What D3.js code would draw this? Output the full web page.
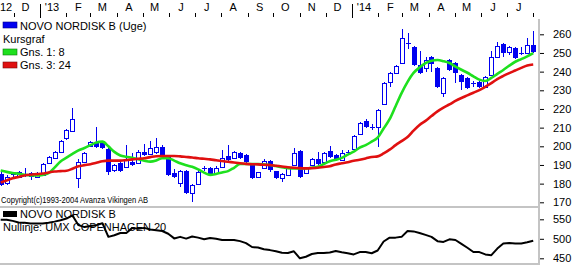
<!DOCTYPE html>
<html><head><meta charset="utf-8">
<script src="https://cdn.jsdelivr.net/npm/d3@7"></script>
<style>html,body{margin:0;padding:0;background:#fff;overflow:hidden}svg{display:block}text{font-family:"Liberation Sans",Arial,sans-serif;fill:#000}</style>
</head><body><svg id="c" width="575" height="265"></svg>
<script>
// weekly candles (week-ending Friday)
const weeks = ["2012-11-16","2012-11-23","2012-11-30","2012-12-07","2012-12-14","2012-12-21","2012-12-28",
"2013-01-04","2013-01-11","2013-01-18","2013-01-25","2013-02-01","2013-02-08","2013-02-15","2013-02-22","2013-03-01","2013-03-08","2013-03-15","2013-03-22","2013-03-29",
"2013-04-05","2013-04-12","2013-04-19","2013-04-26","2013-05-03","2013-05-10","2013-05-17","2013-05-24","2013-05-31","2013-06-07","2013-06-14","2013-06-21","2013-06-28",
"2013-07-05","2013-07-12","2013-07-19","2013-07-26","2013-08-02","2013-08-09","2013-08-16","2013-08-23","2013-08-30","2013-09-06","2013-09-13","2013-09-20","2013-09-27",
"2013-10-04","2013-10-11","2013-10-18","2013-10-25","2013-11-01","2013-11-08","2013-11-15","2013-11-22","2013-11-29","2013-12-06","2013-12-13","2013-12-20","2013-12-27",
"2014-01-03","2014-01-10","2014-01-17","2014-01-24","2014-01-31","2014-02-07","2014-02-14","2014-02-21","2014-02-28","2014-03-07","2014-03-14","2014-03-21","2014-03-28",
"2014-04-04","2014-04-11","2014-04-18","2014-04-25","2014-05-02","2014-05-09","2014-05-16","2014-05-23","2014-05-30","2014-06-06","2014-06-13","2014-06-20","2014-06-27",
"2014-07-04","2014-07-11","2014-07-18","2014-07-25","2014-08-01"];
const open = [185.2,180.4,184.6,183.6,185.0,185.7,183.6,184.6,191.0,193.7,196.9,204.4,208.2,182.9,191.6,200.0,201.7,201.7,198.5,187.2,
191.0,188.9,191.5,191.0,197.0,196.0,196.6,199.6,194.2,185.7,180.3,186.8,175.0,180.3,188.2,188.4,185.6,188.8,194.7,193.6,
196.3,195.2,189.9,183.4,188.3,192.0,186.7,182.9,184.5,189.9,197.4,185.6,189.9,193.0,191.5,197.4,195.2,192.6,196.7,198.5,
206.3,213.5,210.2,210.3,222.7,234.5,239.3,244.7,255.2,253.3,243.6,242.0,247.9,242.0,228.6,246.3,244.7,238.2,236.6,233.9,
234.5,231.8,238.2,247.9,255.0,250.6,252.7,249.9,250.0,254.4];
const close = [179.3,183.6,185.0,186.2,185.2,183.6,185.2,190.5,194.2,196.9,202.8,208.7,214.6,191.6,196.4,202.2,199.5,199.0,186.0,190.0,
186.7,192.6,190.0,196.9,195.6,199.0,199.5,194.2,184.6,183.5,186.8,175.0,179.3,186.5,188.3,185.4,188.5,193.6,192.6,196.9,
193.6,191.5,182.9,186.0,192.0,187.0,182.9,185.0,188.3,196.3,183.4,188.3,193.0,190.4,196.3,194.2,192.6,196.3,196.9,205.3,
212.4,210.3,210.3,219.4,234.0,239.3,243.0,258.0,255.4,243.6,239.3,246.3,244.2,231.8,236.6,240.9,239.3,234.5,231.3,234.0,
231.8,237.2,247.9,253.8,250.0,253.3,247.4,250.0,254.4,250.6];
const high = [186.0,184.5,186.0,187.0,188.6,186.5,186.0,191.0,195.0,197.5,203.5,209.5,220.5,193.0,197.0,203.0,210.5,202.5,199.0,190.5,
191.5,200.6,196.4,198.0,201.0,203.0,204.3,200.5,194.5,188.0,187.5,187.5,180.0,187.5,189.5,189.0,189.5,198.0,200.6,197.5,
197.0,196.0,190.5,186.5,193.0,192.5,187.0,185.5,189.0,199.0,198.0,189.0,193.5,197.0,197.0,200.0,196.0,198.0,198.0,205.8,
213.0,214.5,212.0,220.0,234.5,240.0,243.5,263.0,260.5,253.8,251.0,248.0,248.3,242.5,237.0,246.8,245.2,238.7,237.0,235.0,
235.0,237.7,251.0,256.0,255.5,254.0,253.2,253.0,258.0,262.0];
const low = [178.5,179.5,183.5,183.0,183.5,182.0,183.0,184.0,190.5,193.0,196.5,203.5,207.5,177.8,191.0,199.5,199.0,198.5,184.5,186.5,
186.0,188.5,189.5,190.5,195.0,195.3,196.0,193.5,184.0,183.0,178.0,174.5,170.1,179.5,187.0,185.0,185.0,188.3,192.0,193.0,
193.0,191.0,182.5,183.0,188.0,186.5,182.5,181.0,184.0,189.5,183.0,185.0,189.5,190.0,191.0,194.0,192.3,192.3,195.5,198.0,
206.0,210.0,208.5,199.6,222.0,232.0,238.5,244.3,252.0,243.0,238.8,240.0,240.0,231.3,226.4,240.4,234.0,230.0,230.8,232.0,
231.3,231.3,237.7,247.4,248.0,249.0,247.0,249.0,249.5,250.0];
// Gns. 1: 8 (green) and Gns. 3: 24 (red), read per candle
const avg8 = [187.0,186.3,185.7,185.3,184.8,184.4,184.4,184.7,185.6,188.6,191.9,193.9,195.9,197.8,199.1,200.6,202.0,202.5,200.0,197.0,
195.1,194.4,193.9,193.1,192.3,191.8,192.4,193.6,193.6,192.3,190.9,189.8,189.0,187.6,185.9,184.7,185.2,186.0,186.7,188.5,
190.5,190.5,190.5,190.5,190.3,190.0,189.4,188.8,188.3,188.2,188.2,188.2,188.5,189.1,190.5,192.0,192.8,193.8,195.5,197.1,
199.3,200.6,202.5,204.6,209.5,214.5,221.5,228.5,234.5,239.3,242.2,244.5,245.8,246.2,245.6,244.6,242.7,241.0,239.4,237.5,
235.7,235.0,236.6,238.8,240.9,243.2,245.3,246.7,248.2,249.9];
const avg24 = [180.6,181.7,182.9,183.6,184.4,184.8,185.1,185.4,186.0,186.5,186.7,186.9,188.0,189.3,189.9,190.4,191.2,192.0,192.3,192.3,
192.3,192.6,193.0,193.3,193.6,194.2,194.7,194.8,194.8,194.8,194.6,194.3,194.0,193.6,193.3,193.0,192.5,192.1,191.7,191.3,
190.9,190.6,190.4,190.3,190.1,190.0,189.6,189.2,188.8,188.5,188.3,188.2,188.3,188.5,188.9,189.3,190.3,190.9,191.5,192.3,
192.8,193.5,194.3,194.6,196.2,198.2,200.6,202.8,205.0,208.4,211.4,213.6,216.2,218.7,220.7,222.4,224.3,225.9,227.3,228.7,
230.1,231.9,233.8,236.0,237.7,239.2,240.6,242.0,243.3,243.8];
// NOVO NORDISK B relative to UMX COPENHAGEN 20
const relative = [549,549,546,542,541,539.5,539,539,541,544,547.5,552,560,535,530,533,535,540,505,509,
515,515,528,526,528,524,522,520,513,501,505,500.5,506,503,499,502,500,497,497,497,
494,489,479,477.5,473,471,468,464,463.6,468,450,454,461,463.6,463.6,465,468.7,465.5,463,460,
466,466,463,470,493,503,503,505,520,519,515,510,505,494,492,498.7,497,487,477,466,
466,460,458,475,487.7,489,488,488,491,495];
const monthLabels = ["12","D","'13","F","M","A","M","J","J","A","S","O","N","D","'14","F","M","A","M","J","J"];
const priceTicks = [170,180,190,200,210,220,230,240,250,260];
const relTicks = [450,500,550];

const BLUE = "#0000f0", GREEN = "#1ee01e", RED = "#e01010";
const svg = d3.select("#c");
const parse = d3.utcParse("%Y-%m-%d");
const dates = weeks.map(parse);
const x = d3.scaleUtc().domain([Date.UTC(2013,0,1), Date.UTC(2014,0,1)]).range([40,352]);
const y = d3.scaleLinear().domain([170,260]).range([202.3,34.3]);
const yr = d3.scaleLinear().domain([450,550]).range([258.3,219.3]);
const R = 538;

const defs = svg.append("defs");
defs.append("clipPath").attr("id","cp1").append("rect").attr("x",0).attr("y",19).attr("width",R).attr("height",187);
defs.append("clipPath").attr("id","cp2").append("rect").attr("x",0).attr("y",208).attr("width",R).attr("height",55);

// top month axis
const months = d3.utcMonth.range(new Date(Date.UTC(2012,10,1)), new Date(Date.UTC(2014,7,1)));
const topAxis = svg.append("g");
months.forEach((m,i)=>{
  const mid = d3.utcDay.offset(m,14);
  const first = i === 0;
  topAxis.append("text").attr("x",first ? 0 : x(mid)).attr("y",11)
    .attr("text-anchor",first ? "start" : "middle").attr("font-size",11).text(monthLabels[i]);
});
const tickMonths = d3.utcMonth.range(new Date(Date.UTC(2012,11,1)), new Date(Date.UTC(2014,7,2)));
tickMonths.forEach(m=>{
  const xx = Math.round(x(m))+0.5;
  const yearStart = m.getUTCMonth()===0;
  topAxis.append("line").attr("x1",xx).attr("x2",xx).attr("y1",yearStart?4:13).attr("y2",yearStart?18:17)
    .attr("stroke","#000").attr("stroke-width",1);
});

// frame
svg.append("rect").attr("x",0).attr("y",206).attr("width",R).attr("height",2).attr("fill","#c4c4c4");
svg.append("rect").attr("x",0).attr("y",263).attr("width",R).attr("height",2).attr("fill","#c4c4c4");
svg.append("rect").attr("x",R).attr("y",19).attr("width",2).attr("height",246).attr("fill","#c4c4c4");

// right axes
const ax1 = svg.append("g").attr("transform",`translate(${R+2},0)`)
  .call(d3.axisRight(y).tickValues(priceTicks).tickSize(4).tickPadding(9));
const ax2 = svg.append("g").attr("transform",`translate(${R+2},0)`)
  .call(d3.axisRight(yr).tickValues(relTicks).tickSize(4).tickPadding(9));
[ax1,ax2].forEach(a=>{
  a.select(".domain").remove();
  a.selectAll("line").attr("stroke","#000");
  a.selectAll("text").attr("font-size",11).attr("font-family","Liberation Sans, Arial, sans-serif").attr("fill","#000");
});

// candles
const data = dates.map((d,i)=>({d,o:open[i],c:close[i],h:high[i],l:low[i]}));
const cg = svg.append("g").attr("clip-path","url(#cp1)").attr("shape-rendering","crispEdges");
data.forEach(p=>{
  const cx = Math.round(x(p.d));
  cg.append("line").attr("x1",cx+0.5).attr("x2",cx+0.5).attr("y1",y(p.h)).attr("y2",y(p.l)).attr("stroke",BLUE);
  const t = Math.min(y(p.o),y(p.c)), b = Math.max(y(p.o),y(p.c));
  if (Math.abs(p.o-p.c) < 0.5) {
    cg.append("line").attr("x1",cx-2).attr("x2",cx+3).attr("y1",Math.round(y(p.c))+0.5).attr("y2",Math.round(y(p.c))+0.5).attr("stroke",BLUE);
  } else if (p.c > p.o) {
    cg.append("rect").attr("x",cx-1.5).attr("y",Math.round(t)+0.5).attr("width",4).attr("height",Math.max(1,Math.round(b-t)))
      .attr("fill","#fff").attr("stroke",BLUE);
  } else {
    cg.append("rect").attr("x",cx-2).attr("y",Math.round(t)).attr("width",5).attr("height",Math.max(1,Math.round(b-t)))
      .attr("fill",BLUE);
  }
});

// moving averages
const lg = svg.append("g").attr("clip-path","url(#cp1)");
const lineMA = d3.line().x((d,i)=>x(dates[i])).y(d=>y(d)).curve(d3.curveMonotoneX);
lg.append("path").attr("d",lineMA(avg8)).attr("fill","none").attr("stroke",GREEN).attr("stroke-width",2.6);
lg.append("path").attr("d",lineMA(avg24)).attr("fill","none").attr("stroke",RED).attr("stroke-width",2.6);

// legend top
const leg = svg.append("g");
leg.append("rect").attr("x",3).attr("y",22).attr("width",14).attr("height",6).attr("fill",BLUE).attr("stroke","#00008a").attr("stroke-width",0.6);
leg.append("text").attr("x",20).attr("y",29.5).attr("font-size",11).text("NOVO NORDISK B (Uge)");
leg.append("text").attr("x",3).attr("y",43).attr("font-size",11).text("Kursgraf");
leg.append("rect").attr("x",3).attr("y",49).attr("width",14).attr("height",6).attr("fill",GREEN).attr("stroke","#0a7a0a").attr("stroke-width",0.6);
leg.append("text").attr("x",20).attr("y",56).attr("font-size",11).text("Gns. 1: 8");
leg.append("rect").attr("x",3).attr("y",62).attr("width",14).attr("height",6).attr("fill",RED).attr("stroke","#7a0a0a").attr("stroke-width",0.6);
leg.append("text").attr("x",20).attr("y",69).attr("font-size",11).text("Gns. 3: 24");

svg.append("text").attr("x",1).attr("y",203).attr("font-size",8.5).attr("font-family","Liberation Serif, Times New Roman, serif")
  .attr("textLength",147).attr("lengthAdjust","spacingAndGlyphs").text("Copyright(c)1993-2004 Avanza Vikingen AB");

// bottom panel
const bl = svg.append("g");
bl.append("rect").attr("x",3).attr("y",211).attr("width",14).attr("height",6).attr("fill","#000");
bl.append("text").attr("x",20).attr("y",218).attr("font-size",11).text("NOVO NORDISK B");
bl.append("text").attr("x",3).attr("y",230.5).attr("font-size",11).text("Nullinje: UMX COPENHAGEN 20");
const lineR = d3.line().x((d,i)=>x(dates[i])).y(d=>yr(d));
svg.append("g").attr("clip-path","url(#cp2)").append("path").attr("d",lineR(relative))
  .attr("fill","none").attr("stroke","#000").attr("stroke-width",2).attr("stroke-linejoin","round");
</script></body></html>
